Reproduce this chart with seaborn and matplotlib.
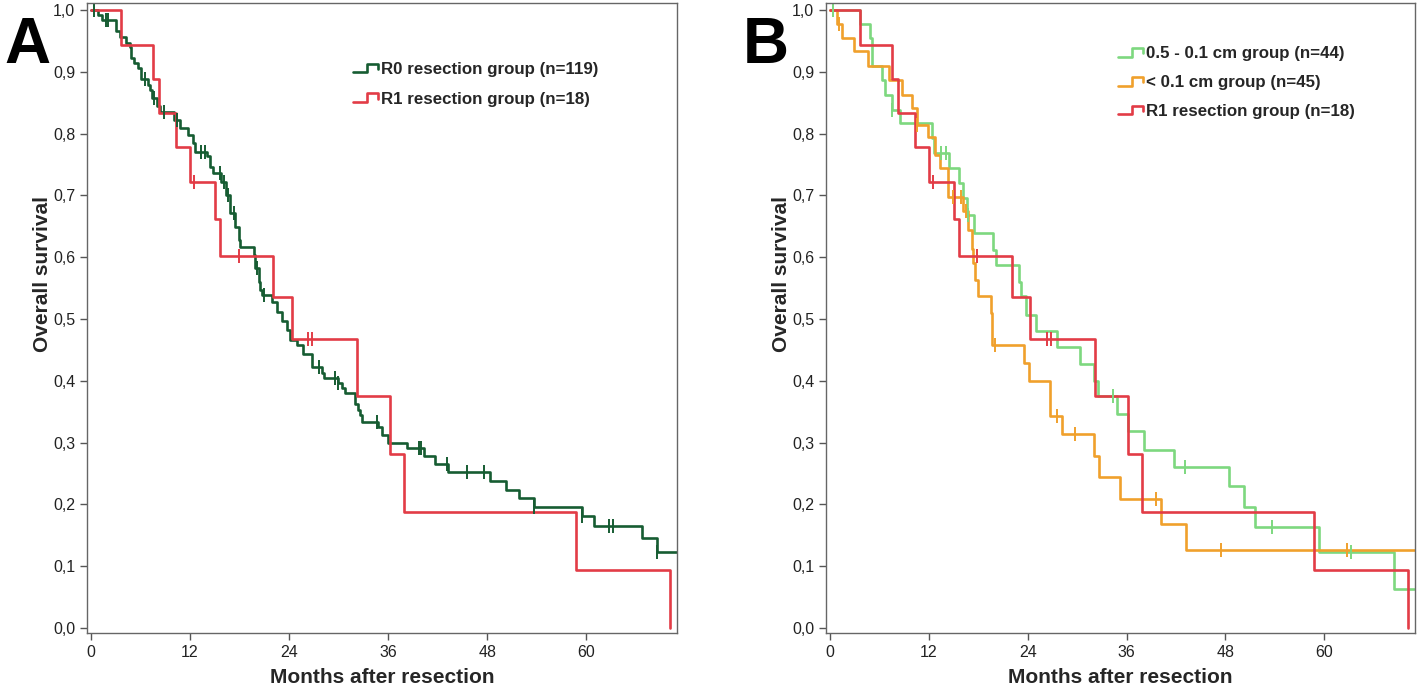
import numpy as np
import pandas as pd
import matplotlib
matplotlib.use("Agg")
import matplotlib.pyplot as plt
import seaborn as sns
from matplotlib.lines import Line2D
from matplotlib.legend_handler import HandlerBase

# ---- datos (meses, supervivencia) ----
r0_time = [0, 0.9, 1.3, 3.0, 3.5, 4.3, 4.7, 4.9, 5.2, 5.7,
           6.1, 6.9, 7.2, 7.4, 8.0, 8.4, 10.0, 10.8, 11.8, 12.4,
           12.6, 14.0, 14.4, 14.8, 15.8, 16.4, 16.8, 17.5, 17.9, 18.1,
           19.7, 19.9, 20.3, 20.5, 20.7, 21.9, 22.5, 23.1, 23.7, 24.1,
           24.9, 25.7, 26.8, 28.0, 28.2, 29.9, 30.4, 30.8, 32.0, 32.3,
           32.6, 32.8, 34.8, 35.2, 36.0, 38.3, 40.3, 41.7, 43.3, 48.4,
           50.3, 51.8, 53.7, 59.5, 61.0, 66.7, 68.6, 71.0]
r0_surv = [1.0, 0.992, 0.983, 0.966, 0.957, 0.946, 0.940, 0.923, 0.914, 0.906,
           0.889, 0.879, 0.871, 0.857, 0.844, 0.835, 0.822, 0.809, 0.798, 0.784,
           0.771, 0.763, 0.746, 0.736, 0.722, 0.701, 0.671, 0.649, 0.628, 0.617,
           0.604, 0.582, 0.560, 0.547, 0.539, 0.528, 0.512, 0.496, 0.482, 0.466,
           0.458, 0.444, 0.423, 0.412, 0.404, 0.396, 0.388, 0.380, 0.362, 0.352,
           0.345, 0.334, 0.326, 0.312, 0.300, 0.291, 0.278, 0.265, 0.253, 0.238,
           0.224, 0.210, 0.196, 0.181, 0.165, 0.145, 0.123, 0.123]
r0_cens = [0.4, 1.8, 2.0, 6.6, 7.6, 8.8, 10.4, 13.3, 13.8, 15.6,
           16.1, 16.6, 17.3, 20.1, 20.9, 27.6, 29.6, 29.9, 34.6, 39.7,
           40.0, 43.1, 45.5, 47.6, 53.7, 59.5, 62.8, 63.2, 68.6]

r1_time = [0, 3.6, 7.55, 8.2, 10.3, 12.0, 15.0, 15.6, 22.1, 24.3, 32.2, 36.2, 37.9, 58.8, 70.2]
r1_surv = [1.0, 0.944, 0.889, 0.833, 0.778, 0.722, 0.662, 0.602, 0.535, 0.468, 0.375, 0.281, 0.188, 0.094, 0.0]
r1_cens = [12.5, 17.9, 26.3, 26.8]

g_time = [0, 3.6, 4.9, 5.1, 6.3, 6.7, 7.5, 8.5, 12.4, 12.6,
          14.5, 15.6, 16.2, 16.6, 17.5, 19.8, 20.1, 22.9, 23.2, 23.8,
          25.0, 27.6, 30.3, 32.1, 32.5, 34.8, 36.2, 38.1, 41.7, 48.4,
          50.2, 51.6, 59.3, 68.5, 70.9]
g_surv = [1.0, 0.977, 0.955, 0.909, 0.887, 0.862, 0.838, 0.817, 0.793, 0.769,
          0.744, 0.720, 0.695, 0.668, 0.639, 0.612, 0.587, 0.560, 0.538, 0.506,
          0.481, 0.454, 0.427, 0.399, 0.375, 0.346, 0.318, 0.288, 0.260, 0.229,
          0.196, 0.163, 0.123, 0.063, 0.063]
g_cens = [0.4, 7.5, 13.5, 14.1, 16.8, 34.4, 43.1, 53.7, 63.2]

o_time = [0, 0.8, 1.4, 2.9, 4.6, 7.2, 8.7, 9.9, 10.5, 11.9,
          12.7, 13.3, 14.3, 16.2, 16.8, 17.2, 17.4, 17.6, 18.0, 19.5,
          19.7, 23.6, 24.1, 26.7, 28.1, 32.1, 32.6, 35.2, 40.2, 43.2,
          71.0]
o_surv = [1.0, 0.978, 0.955, 0.933, 0.909, 0.887, 0.862, 0.841, 0.814, 0.795,
          0.765, 0.744, 0.698, 0.674, 0.644, 0.614, 0.591, 0.563, 0.538, 0.510,
          0.458, 0.429, 0.400, 0.343, 0.314, 0.278, 0.245, 0.209, 0.168, 0.126,
          0.126]
o_cens = [1.1, 10.6, 14.9, 15.9, 16.5, 20.0, 27.5, 29.7, 39.6, 47.4, 62.7]

month_ticks = [0, 12, 24, 36, 48, 60]
surv_ticks = [0.0, 0.1, 0.2, 0.3, 0.4, 0.5, 0.6, 0.7, 0.8, 0.9, 1.0]

lab_r0 = "R0 resection group (n=119)"
lab_r1 = "R1 resection group (n=18)"
lab_g = "0.5 - 0.1 cm group (n=44)"
lab_o = "< 0.1 cm group (n=45)"

colores = {lab_r0: "#165c32", lab_r1: "#e23c46", lab_g: "#7dd87f", lab_o: "#f0a02c"}

sns.set_style("white")
plt.rcParams["font.family"] = ["Liberation Sans", "DejaVu Sans"]


class StepHandle(HandlerBase):
    # icono escalonado como en SPSS
    def create_artists(self, legend, orig_handle, xdescent, ydescent,
                       width, height, fontsize, trans):
        xs = np.array([0, 0.55, 0.55, 1.0, 1.0]) * width - xdescent
        ys = np.array([0.1, 0.1, 0.85, 0.85, 0.4]) * height - ydescent
        ln = Line2D(xs, ys, color=orig_handle.get_color(),
                    lw=orig_handle.get_linewidth(), transform=trans)
        return [ln]


def tabla(grupos):
    partes = []
    for lab, t, s in grupos:
        partes.append(pd.DataFrame({"mes": t, "surv": s, "grupo": lab}))
    return pd.concat(partes, ignore_index=True)


def panel(ax, grupos, censuras, ley_pos, ley_esp):
    df = tabla(grupos)
    sns.lineplot(data=df, x="mes", y="surv", hue="grupo", palette=colores,
                 estimator=None, sort=False, drawstyle="steps-post",
                 lw=1.9, legend=False, ax=ax)
    for lab, t, s in grupos:
        c = censuras[lab]
        idx = np.searchsorted(np.array(t), np.array(c), side="right") - 1
        ax.plot(c, np.array(s)[idx], ls="none", marker="|", ms=10, mew=1.4,
                color=colores[lab])
    ax.set_xlim(-0.485, 71.0)
    ax.set_ylim(-0.0081, 1.0113)
    ax.set_xticks(month_ticks)
    ax.set_yticks(surv_ticks)
    ax.set_yticklabels([f"{v:.1f}".replace(".", ",") for v in surv_ticks])
    ax.tick_params(axis="both", direction="out", length=5, width=1,
                   color="#555555", labelsize=11.5, labelcolor="#222222",
                   bottom=True, left=True)
    for sp in ax.spines.values():
        sp.set_color("#666666")
        sp.set_linewidth(1.0)
    ax.set_xlabel("Months after resection", fontsize=15, fontweight="bold")
    ax.set_ylabel("Overall survival", fontsize=15, fontweight="bold")
    ax.xaxis.set_label_coords(0.5, -0.056)
    ax.yaxis.set_label_coords(-0.06, 0.57)
    handles = [Line2D([], [], color=colores[lab], lw=1.9) for lab, _, _ in grupos]
    ax.legend(handles, [lab for lab, _, _ in grupos],
              handler_map={Line2D: StepHandle()}, loc="upper left",
              bbox_to_anchor=ley_pos, frameon=False,
              prop={"weight": "bold", "size": 12.2},
              handlelength=1.45, handletextpad=0.2, labelspacing=ley_esp,
              borderaxespad=0, borderpad=0)


fig = plt.figure(figsize=(14.18, 6.89), dpi=100)
ax_a = fig.add_axes([87 / 1418, 56 / 689, 590 / 1418, 630 / 689])
ax_b = fig.add_axes([826 / 1418, 56 / 689, 589 / 1418, 630 / 689])

panel(ax_a,
      [(lab_r0, r0_time, r0_surv), (lab_r1, r1_time, r1_surv)],
      {lab_r0: r0_cens, lab_r1: r1_cens},
      (0.451, 0.907), 0.88)
panel(ax_b,
      [(lab_g, g_time, g_surv), (lab_o, o_time, o_surv), (lab_r1, r1_time, r1_surv)],
      {lab_g: g_cens, lab_o: o_cens, lab_r1: r1_cens},
      (0.496, 0.932), 0.82)

fig.text(4 / 1418, 1 - 63 / 689, "A", fontsize=46, fontweight="bold", color="black")
fig.text(743 / 1418, 1 - 63 / 689, "B", fontsize=46, fontweight="bold", color="black")

fig.savefig("out.png", dpi=100)
plt.close(fig)
